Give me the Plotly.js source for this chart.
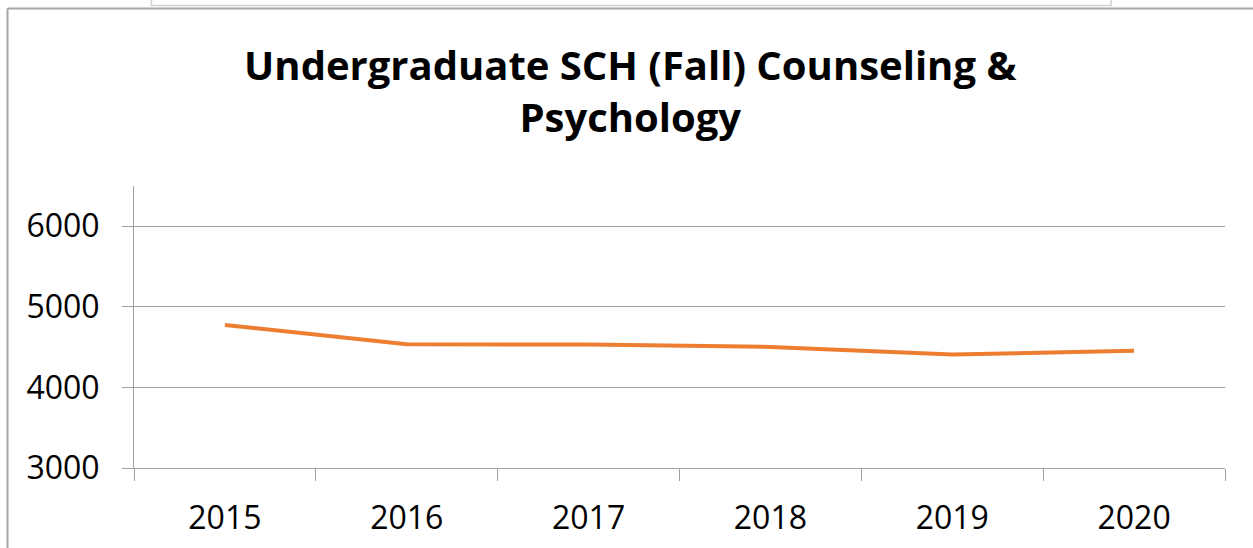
<!DOCTYPE html>
<html>
<head>
<meta charset="utf-8">
<script src="https://cdn.plot.ly/plotly-3.0.1.min.js"></script>
<style>
html,body{margin:0;padding:0;background:#fff;}
#chart{width:1253px;height:548px;}
</style>
</head>
<body>
<div id="chart"></div>
<script>
const years = ['2015', '2016', '2017', '2018', '2019', '2020'];
const sch = [4776, 4535, 4533, 4503, 4408, 4455];
const yTicks = [3000, 4000, 5000, 6000];

const L = 134, R = 1225, T = 186, B = 468;
const W = R - L, H = B - T;
const px = x => (x - L) / W;
const py = y => (B - y) / H;

const trace = {
  x: years,
  y: sch,
  type: 'scatter',
  mode: 'lines',
  line: {color: '#ED7D31', width: 4},
  hoverinfo: 'x+y'
};

const layout = {
  width: 1253,
  height: 548,
  margin: {l: L, r: 1253 - R, t: T, b: 548 - B, pad: 0},
  paper_bgcolor: '#ffffff',
  plot_bgcolor: '#ffffff',
  showlegend: false,
  font: {family: 'Open Sans, sans-serif', color: '#000000'},
  title: {
    text: '<b>Undergraduate SCH (Fall) Counseling &amp;<br>Psychology</b>',
    font: {family: 'Open Sans, sans-serif', size: 40, color: '#000000'},
    x: 0.503, xref: 'container', xanchor: 'center',
    y: 0.854, yref: 'container', yanchor: 'middle'
  },
  xaxis: {
    type: 'category',
    range: [-0.5, 5.5],
    tickson: 'boundaries',
    ticks: 'outside',
    ticklen: 12,
    tickcolor: '#a0a0a0',
    tickwidth: 1,
    showline: true,
    linecolor: '#a0a0a0',
    linewidth: 1,
    showgrid: false,
    zeroline: false,
    tickfont: {family: 'Open Sans, sans-serif', size: 32, color: '#000000'},
    ticklabelstandoff: 22,
    fixedrange: true
  },
  yaxis: {
    range: [3000, 6500],
    tickvals: yTicks,
    ticktext: yTicks.map(String),
    ticks: 'outside',
    ticklen: 11,
    tickcolor: '#a0a0a0',
    showline: true,
    linecolor: '#a0a0a0',
    linewidth: 1,
    showgrid: true,
    gridcolor: '#a0a0a0',
    gridwidth: 1,
    zeroline: false,
    tickfont: {family: 'Open Sans, sans-serif', size: 32, color: '#000000'},
    ticklabelstandoff: 16,
    fixedrange: true
  },
  shapes: [
    {type: 'line', xref: 'paper', yref: 'paper', x0: px(7.5), x1: px(7.5), y0: py(8.5), y1: py(560), line: {color: '#a6a6a6', width: 2}},
    {type: 'line', xref: 'paper', yref: 'paper', x0: px(7.5), x1: px(1260), y0: py(8.5), y1: py(8.5), line: {color: '#a6a6a6', width: 2}},
    {type: 'rect', xref: 'paper', yref: 'paper', x0: px(151.5), x1: px(1111), y0: py(5.5), y1: py(-10), line: {color: '#d0d0d0', width: 1.5}}
  ]
};

Plotly.newPlot('chart', [trace], layout, {displayModeBar: false, staticPlot: true});
</script>
</body>
</html>
